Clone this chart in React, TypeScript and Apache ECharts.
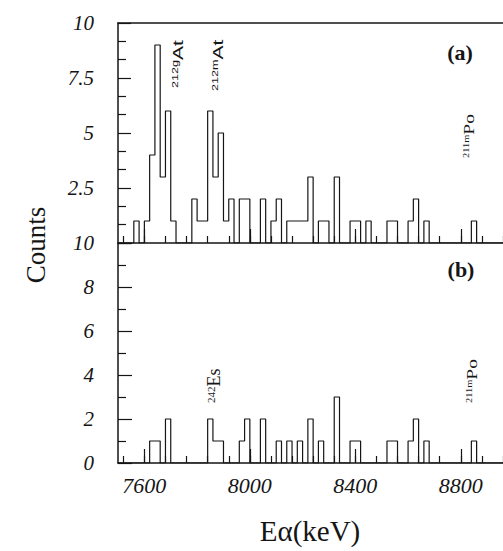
import React, { useEffect, useRef } from "react";
import * as echarts from "echarts";

// ---- data ----
const BIN_START = 7500; // keV, first bin edge
const BIN_WIDTH = 20; // keV
// panel (a) counts per 20 keV bin, 7500 ... 8940
const COUNTS_A = [
  0, 0, 0, 1, 0, 1, 4, 9, 3, 6, 1, 0, 0, 0, 2, 1, 1, 6, 3, 5,
  1, 2, 0, 2, 2, 0, 0, 2, 0, 1, 2, 0, 1, 1, 1, 1, 3, 0, 1, 1,
  0, 3, 0, 0, 1, 1, 0, 1, 0, 0, 0, 1, 1, 0, 0, 1, 2, 0, 1, 0,
  0, 0, 0, 0, 0, 0, 0, 1, 0, 0, 0, 0, 0,
];
// panel (b) counts per 20 keV bin, 7500 ... 8940
const COUNTS_B = [
  0, 0, 0, 0, 0, 0, 1, 1, 0, 2, 0, 0, 0, 0, 0, 0, 0, 2, 1, 1,
  0, 0, 0, 1, 2, 0, 0, 2, 0, 0, 1, 0, 1, 0, 1, 0, 2, 0, 1, 0,
  0, 3, 0, 0, 1, 1, 0, 0, 0, 0, 0, 1, 1, 0, 0, 1, 2, 0, 1, 0,
  0, 0, 0, 0, 0, 0, 0, 1, 0, 0, 0, 0, 0,
];
const X_MIN = 7500;
const X_MAX = 8960;
const X_MAJOR = [7600, 8000, 8400, 8800];
const X_MINOR_STEP = 80;
const Y_MAX = 10;
const Y_TICKS_A = [2.5, 5, 7.5, 10]; // labelled ticks, panel (a)
const Y_TICKS_B = [0, 2, 4, 6, 8, 10]; // labelled ticks, panel (b)

const X_MINOR: number[] = [];
for (let v = 7520; v <= X_MAX; v += X_MINOR_STEP) X_MINOR.push(v);

function stepData(counts: number[]) {
  const pts: number[][] = [];
  counts.forEach((c, i) => {
    const a = BIN_START + i * BIN_WIDTH;
    pts.push([a, c], [a + BIN_WIDTH, c]);
  });
  return pts;
}

const INK = "#151515";
const SERIF = "Liberation Serif";
const SANS = "Liberation Sans";
const GRID_LEFT = 118;
const GRID_B_BOTTOM = 463;

const axisLine = { show: true, onZero: false, lineStyle: { color: INK, width: 1.5 } };

function xMajor(grid: number) {
  return {
    gridIndex: grid,
    type: "value",
    min: X_MIN,
    max: X_MAX,
    position: "bottom",
    axisLine,
    axisTick: { show: true, inside: true, length: 14, customValues: X_MAJOR, lineStyle: { color: INK, width: 1.2 } },
    axisLabel: { show: false },
    splitLine: { show: false },
  };
}
function xMinor(grid: number) {
  return {
    gridIndex: grid,
    type: "value",
    min: X_MIN,
    max: X_MAX,
    position: "bottom",
    axisLine: { show: false },
    axisTick: { show: true, inside: true, length: 7, customValues: X_MINOR, lineStyle: { color: INK, width: 1.2 } },
    axisLabel: { show: false },
    splitLine: { show: false },
  };
}

function isoLabel(x: number, y: number, sup: string, main: string, supSize: number, mainSize: number, scale: number, family: string) {
  return {
    type: "text",
    x,
    y,
    rotation: Math.PI / 2,
    scaleX: scale,
    silent: true,
    style: {
      text: `{s|${sup}}{m|${main}}`,
      align: "left",
      verticalAlign: "bottom",
      fill: INK,
      rich: {
        s: { fontSize: supSize, fontFamily: family, verticalAlign: "top", fill: INK },
        m: { fontSize: mainSize, fontFamily: family, fill: INK },
      },
    },
  };
}

function tickText(x: number, y: number, text: string, align: string, vAlign: string, size: number) {
  return {
    type: "text",
    x,
    y,
    silent: true,
    style: {
      text,
      fontFamily: SERIF,
      fontStyle: "italic",
      fontSize: size,
      fill: INK,
      align,
      verticalAlign: vAlign,
    },
  };
}

const baseGraphic = [
  {
    type: "text",
    x: 36,
    y: 245,
    rotation: Math.PI / 2,
    style: { text: "Counts", fontFamily: SERIF, fontSize: 27, fill: INK, align: "center", verticalAlign: "middle" },
  },
  {
    type: "text",
    x: 310,
    y: 531,
    style: { text: "Eα(keV)", fontFamily: SERIF, fontSize: 29, fill: INK, align: "center", verticalAlign: "middle" },
  },
  {
    type: "text",
    x: 460,
    y: 52,
    style: { text: "(a)", fontFamily: SERIF, fontWeight: "bold", fontSize: 22, fill: INK, align: "center", verticalAlign: "middle" },
  },
  {
    type: "text",
    x: 461,
    y: 269,
    style: { text: "(b)", fontFamily: SERIF, fontWeight: "bold", fontSize: 22, fill: INK, align: "center", verticalAlign: "middle" },
  },
  isoLabel(185, 88, "212g", "At", 9, 15, 1.4, SANS),
  isoLabel(225, 91, "212m", "At", 9, 15, 1.4, SANS),
  isoLabel(477, 158, "211m", "Po", 8, 15, 1.3, SERIF),
  isoLabel(480, 403, "211m", "Po", 8, 15, 1.3, SERIF),
  isoLabel(223, 403, "242", "Es", 11, 18, 1.0, SERIF),
];

const option = {
  animation: false,
  backgroundColor: "#ffffff",
  grid: [
    { left: GRID_LEFT, top: 23, width: 385, height: 220 },
    { left: GRID_LEFT, top: 243, width: 385, height: 220 },
  ],
  xAxis: [
    xMajor(0),
    xMinor(0),
    {
      gridIndex: 0,
      type: "value",
      min: X_MIN,
      max: X_MAX,
      position: "top",
      axisLine,
      axisTick: { show: false },
      axisLabel: { show: false },
      splitLine: { show: false },
    },
    xMajor(1),
    xMinor(1),
  ],
  yAxis: [
    {
      gridIndex: 0,
      type: "value",
      min: 0,
      max: Y_MAX,
      interval: 2.5,
      axisLine,
      axisTick: { show: true, inside: true, length: 13, lineStyle: { color: INK, width: 1.2 } },
      minorTick: { show: true, splitNumber: 3, length: 8, lineStyle: { color: INK, width: 1.2 } },
      axisLabel: { show: false },
      splitLine: { show: false },
    },
    {
      gridIndex: 1,
      type: "value",
      min: 0,
      max: Y_MAX,
      interval: 2,
      axisLine,
      axisTick: { show: true, inside: true, length: 14, lineStyle: { color: INK, width: 1.2 } },
      minorTick: { show: true, splitNumber: 2, length: 8, lineStyle: { color: INK, width: 1.2 } },
      axisLabel: { show: false },
      splitLine: { show: false },
    },
  ],
  series: [
    {
      type: "line",
      xAxisIndex: 0,
      yAxisIndex: 0,
      data: stepData(COUNTS_A),
      symbol: "none",
      silent: true,
      lineStyle: { color: INK, width: 1.2 },
    },
    {
      type: "line",
      xAxisIndex: 3,
      yAxisIndex: 1,
      data: stepData(COUNTS_B),
      symbol: "none",
      silent: true,
      lineStyle: { color: INK, width: 1.2 },
    },
  ],
  graphic: baseGraphic,
};

export default function App() {
  const ref = useRef<HTMLDivElement>(null);
  useEffect(() => {
    if (!ref.current) return;
    const chart = echarts.init(ref.current, null, { renderer: "svg" });
    chart.setOption(option as any);
    // tick labels placed through the axes' own scales
    const labels: any[] = [];
    Y_TICKS_A.forEach((v) => {
      const py = chart.convertToPixel({ yAxisIndex: 0 } as any, v) as number;
      labels.push(tickText(GRID_LEFT - 24, py, String(v), "right", "middle", 21));
    });
    Y_TICKS_B.forEach((v) => {
      const py = chart.convertToPixel({ yAxisIndex: 1 } as any, v) as number;
      labels.push(tickText(GRID_LEFT - 24, py, String(v), "right", "middle", 21));
    });
    X_MAJOR.forEach((v) => {
      const px = chart.convertToPixel({ xAxisIndex: 3 } as any, v) as number;
      labels.push(tickText(px, GRID_B_BOTTOM + 11, String(v), "center", "top", 22));
    });
    chart.setOption({ graphic: [...baseGraphic, ...labels] } as any);
    return () => chart.dispose();
  }, []);
  return (
    <div
      ref={ref}
      style={{ position: "absolute", left: 0, top: 0, width: 503, height: 551, background: "#fff" }}
    />
  );
}
